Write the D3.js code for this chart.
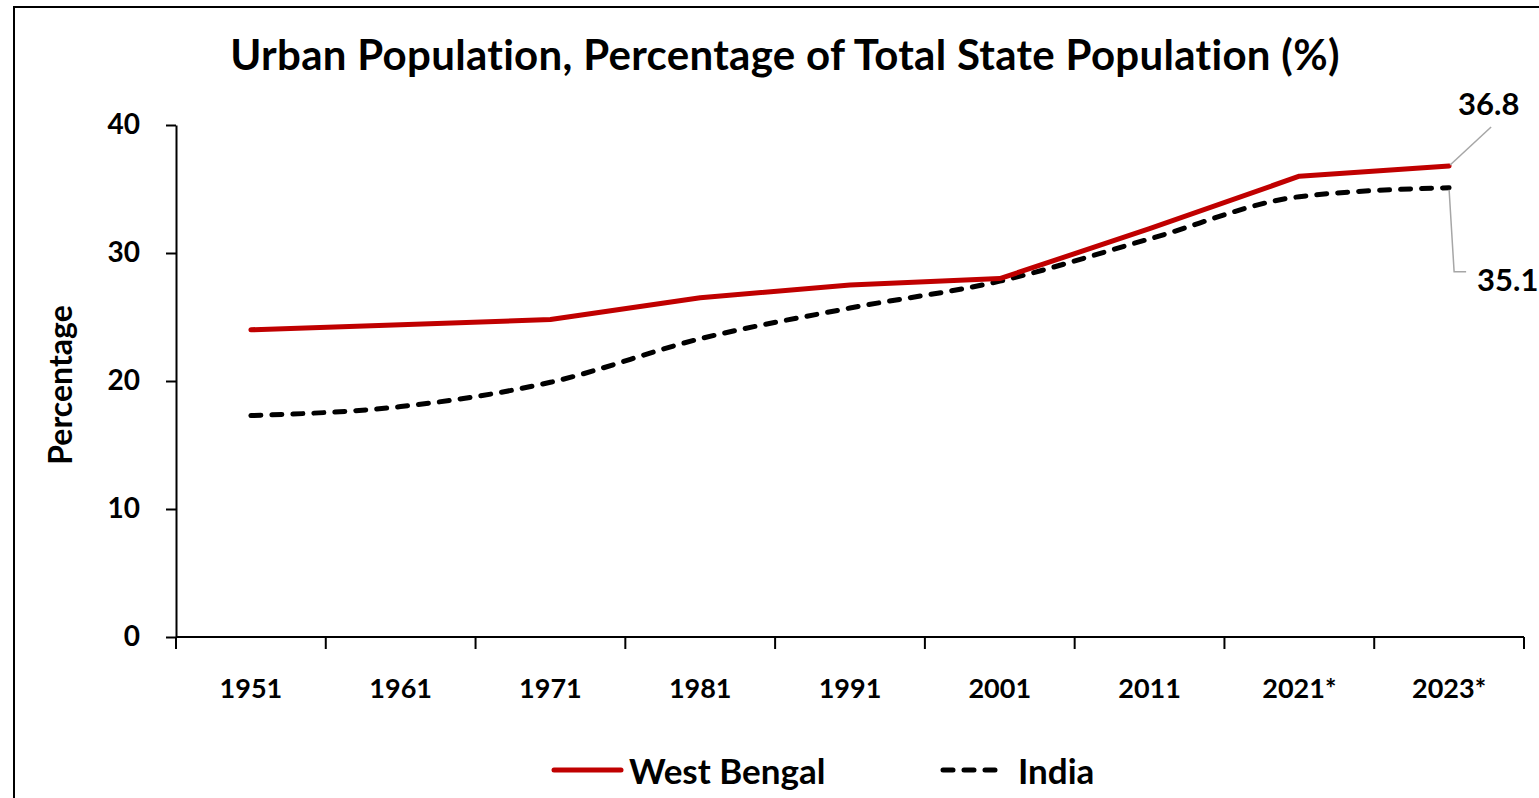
<!DOCTYPE html>
<html>
<head>
<meta charset="utf-8">
<script src="https://cdn.jsdelivr.net/npm/d3@7"></script>
<style>
  body { margin: 0; background: #fff; }
  svg text { font-family: Lato, "Open Sans", sans-serif; font-weight: bold; fill: #000; }
</style>
</head>
<body>
<div id="chart"></div>
<script>
// Data
const years = ["1951", "1961", "1971", "1981", "1991", "2001", "2011", "2021*", "2023*"]
const west_bengal = [24.0, 24.4, 24.8, 26.5, 27.5, 28.0, 31.9, 36.0, 36.8]
const india = [17.3, 18.0, 19.9, 23.3, 25.7, 27.8, 31.1, 34.4, 35.1]
const y_ticks = [0, 10, 20, 30, 40]

const width = 1539
const height = 798
const margin = {left: 176, right: 15, top: 125, bottom: 161}

var svg = d3.select("#chart").append("svg")
    .attr("width", width)
    .attr("height", height)

// frame
svg.append("rect")
    .attr("x", 14).attr("y", 7)
    .attr("width", width).attr("height", height)
    .attr("fill", "none")
    .attr("stroke", "#000")
    .attr("stroke-width", 2)

var x = d3.scaleBand()
    .domain(years)
    .range([margin.left, width - margin.right])
    .padding(0)

var y = d3.scaleLinear()
    .domain([0, 40])
    .range([height - margin.bottom, margin.top])

const xc = d => x(d) + x.bandwidth() / 2

// title
svg.append("text")
    .attr("x", 785).attr("y", 70)
    .attr("text-anchor", "middle")
    .attr("font-size", 42)
    .attr("letter-spacing", 0.3)
    .text("Urban Population, Percentage of Total State Population (%)")

// y axis
var yAxis = svg.append("g")
    .attr("transform", "translate(" + margin.left + ",0)")
    .call(d3.axisLeft(y).tickValues(y_ticks).tickSize(10).tickPadding(26).tickSizeOuter(0))
yAxis.select(".domain").attr("stroke-width", 2)
yAxis.selectAll(".tick line").attr("stroke-width", 2)
yAxis.selectAll(".tick text")
    .attr("font-size", 28)
    .attr("font-family", "Lato, sans-serif")
    .attr("font-weight", "bold")

// x axis: line, boundary ticks, centred labels
var x0 = y(0)
svg.append("line")
    .attr("x1", margin.left).attr("x2", width - margin.right)
    .attr("y1", x0).attr("y2", x0)
    .attr("stroke", "#000").attr("stroke-width", 2)

var bounds = years.map(d => x(d)).concat([x(years[years.length - 1]) + x.bandwidth()])
svg.selectAll(".xtick").data(bounds).enter().append("line")
    .attr("class", "xtick")
    .attr("x1", d => d).attr("x2", d => d)
    .attr("y1", x0).attr("y2", x0 + 12)
    .attr("stroke", "#000").attr("stroke-width", 2)

svg.selectAll(".xlab").data(years).enter().append("text")
    .attr("class", "xlab")
    .attr("x", d => xc(d))
    .attr("y", 698)
    .attr("text-anchor", "middle")
    .attr("font-size", 27)
    .text(d => d)

// y label
svg.append("text")
    .attr("transform", "translate(72,385) rotate(-90)")
    .attr("text-anchor", "middle")
    .attr("font-size", 32)
    .text("Percentage")

// lines
var line_wb = d3.line()
    .x((d, i) => xc(years[i]))
    .y(d => y(d))

var line_in = d3.line()
    .x((d, i) => xc(years[i]))
    .y(d => y(d))
    .curve(d3.curveMonotoneX)

svg.append("path")
    .datum(india)
    .attr("fill", "none")
    .attr("stroke", "#000")
    .attr("stroke-width", 5)
    .attr("stroke-linecap", "round")
    .attr("stroke-dasharray", "10,11")
    .attr("d", line_in)

svg.append("path")
    .datum(west_bengal)
    .attr("fill", "none")
    .attr("stroke", "#c00000")
    .attr("stroke-width", 5)
    .attr("stroke-linecap", "round")
    .attr("stroke-linejoin", "round")
    .attr("d", line_wb)

// end labels with leader lines
var last = years.length - 1
var lx = xc(years[last])
var wb_y = y(west_bengal[last])
var in_y = y(india[last])

svg.append("line")
    .attr("x1", lx + 1).attr("y1", wb_y - 1)
    .attr("x2", lx + 42).attr("y2", wb_y - 39)
    .attr("stroke", "#a6a6a6").attr("stroke-width", 1.5)
svg.append("text")
    .attr("x", lx + 9).attr("y", wb_y - 51)
    .attr("font-size", 31)
    .text(west_bengal[last].toFixed(1))

svg.append("path")
    .attr("d", "M" + (lx) + "," + (in_y + 2) + "L" + (lx + 5) + "," + (in_y + 84) + "L" + (lx + 17) + "," + (in_y + 84))
    .attr("fill", "none")
    .attr("stroke", "#a6a6a6").attr("stroke-width", 1.5)
svg.append("text")
    .attr("x", lx + 28).attr("y", in_y + 103)
    .attr("font-size", 31)
    .text(india[last].toFixed(1))

// legend
var leg = svg.append("g")
leg.append("line")
    .attr("x1", 554).attr("x2", 621).attr("y1", 770).attr("y2", 770)
    .attr("stroke", "#c00000").attr("stroke-width", 5).attr("stroke-linecap", "round")
leg.append("text")
    .attr("x", 629).attr("y", 784)
    .attr("font-size", 35)
    .text("West Bengal")
leg.append("line")
    .attr("x1", 943).attr("x2", 1004).attr("y1", 770).attr("y2", 770)
    .attr("stroke", "#000").attr("stroke-width", 5).attr("stroke-linecap", "round")
    .attr("stroke-dasharray", "10,11")
leg.append("text")
    .attr("x", 1018).attr("y", 784)
    .attr("font-size", 35)
    .text("India")
</script>
</body>
</html>
